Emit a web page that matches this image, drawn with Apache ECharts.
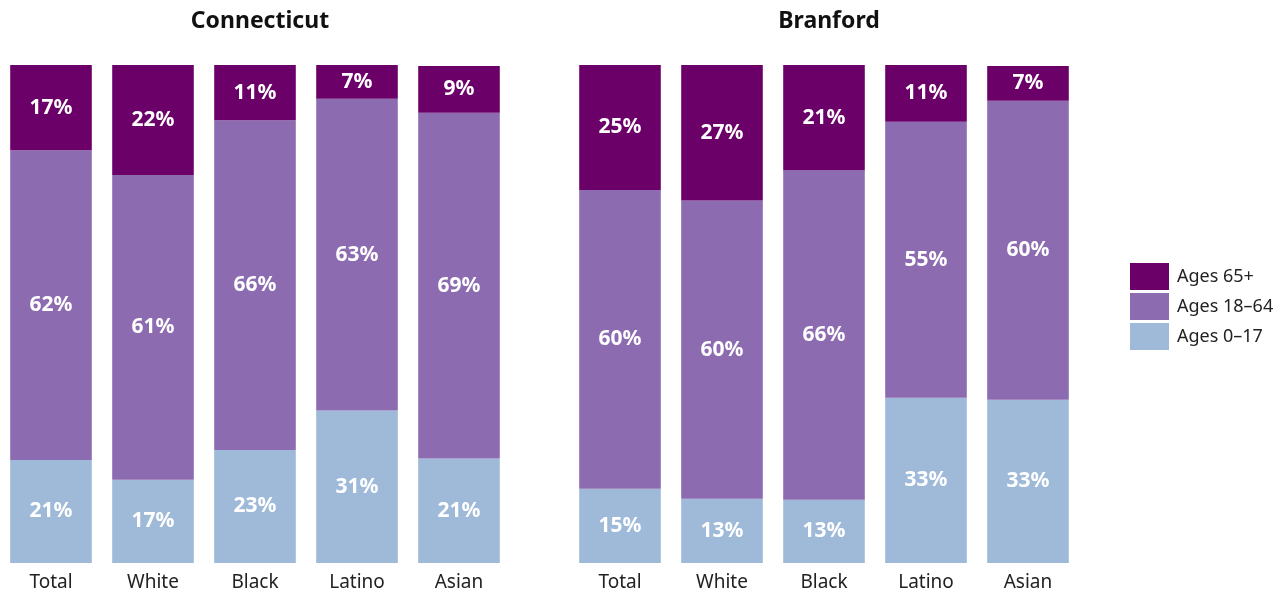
<!DOCTYPE html>
<html>
<head>
<meta charset="utf-8">
<script src="https://cdn.jsdelivr.net/npm/echarts@6/dist/echarts.min.js"></script>
<style>
  html, body { margin: 0; padding: 0; background: #fff; }
  #chart { width: 1284px; height: 594px; }
</style>
</head>
<body>
<div id="chart"></div>
<script>
const categories = ['Total', 'White', 'Black', 'Latino', 'Asian'];

// Connecticut
const ctAge0to17 = [20.7, 16.7, 22.7, 30.6, 21.0];
const ctAge18to64 = [62.2, 61.2, 66.2, 62.6, 69.4];
const ctAge65plus = [17.1, 22.1, 11.1, 6.8, 9.4];

// Branford
const brAge0to17 = [14.9, 12.9, 12.7, 33.2, 32.8];
const brAge18to64 = [60.0, 59.9, 66.2, 55.4, 60.0];
const brAge65plus = [25.1, 27.2, 21.1, 11.4, 7.0];

const colors = {
  '65': '#6b0069',
  '18': '#8c6bb0',
  '0': '#9ebad8'
};
const fontFamily = '"Noto Sans", sans-serif';

const chart = echarts.init(document.getElementById('chart'));

const makeSeries = (name, data, color, idx, stack) => ({
  name: name,
  type: 'bar',
  stack: stack,
  xAxisIndex: idx,
  yAxisIndex: idx,
  data: data,
  barCategoryGap: '20%',
  itemStyle: { color: color },
  label: {
    show: true,
    position: 'inside',
    color: '#fff',
    fontWeight: 'bold',
    fontSize: 21,
    fontFamily: fontFamily,
    formatter: p => Math.round(p.value) + '%'
  },
  emphasis: { disabled: true }
});

const xAxisBase = {
  type: 'category',
  data: categories,
  axisLine: { show: false },
  axisTick: { show: false },
  axisLabel: { color: '#222', fontSize: 19, fontFamily: fontFamily, margin: 10 }
};
const yAxisBase = {
  type: 'value',
  min: 0,
  max: 100,
  show: false
};

chart.setOption({
  animation: false,
  title: [
    {
      text: 'Connecticut', left: 255, top: 5, textAlign: 'center',
      textStyle: { fontSize: 23, fontWeight: 'bold', color: '#111', fontFamily: fontFamily }
    },
    {
      text: 'Branford', left: 824, top: 5, textAlign: 'center',
      textStyle: { fontSize: 23, fontWeight: 'bold', color: '#111', fontFamily: fontFamily }
    }
  ],
  legend: {
    orient: 'vertical',
    left: 1130,
    top: 263,
    padding: 0,
    itemWidth: 39,
    itemHeight: 27,
    itemGap: 3,
    icon: 'rect',
    data: ['Ages 65+', 'Ages 18–64', 'Ages 0–17'],
    textStyle: { fontSize: 18, color: '#222', fontFamily: fontFamily, padding: [0, 0, 0, 3] },
    selectedMode: false
  },
  grid: [
    { left: 0, width: 510, top: 65, height: 498 },
    { left: 569, width: 510, top: 65, height: 498 }
  ],
  xAxis: [
    Object.assign({ gridIndex: 0 }, xAxisBase),
    Object.assign({ gridIndex: 1 }, xAxisBase)
  ],
  yAxis: [
    Object.assign({ gridIndex: 0 }, yAxisBase),
    Object.assign({ gridIndex: 1 }, yAxisBase)
  ],
  series: [
    makeSeries('Ages 0–17', ctAge0to17, colors['0'], 0, 'ct'),
    makeSeries('Ages 18–64', ctAge18to64, colors['18'], 0, 'ct'),
    makeSeries('Ages 65+', ctAge65plus, colors['65'], 0, 'ct'),
    makeSeries('Ages 0–17', brAge0to17, colors['0'], 1, 'br'),
    makeSeries('Ages 18–64', brAge18to64, colors['18'], 1, 'br'),
    makeSeries('Ages 65+', brAge65plus, colors['65'], 1, 'br')
  ]
});
</script>
</body>
</html>
